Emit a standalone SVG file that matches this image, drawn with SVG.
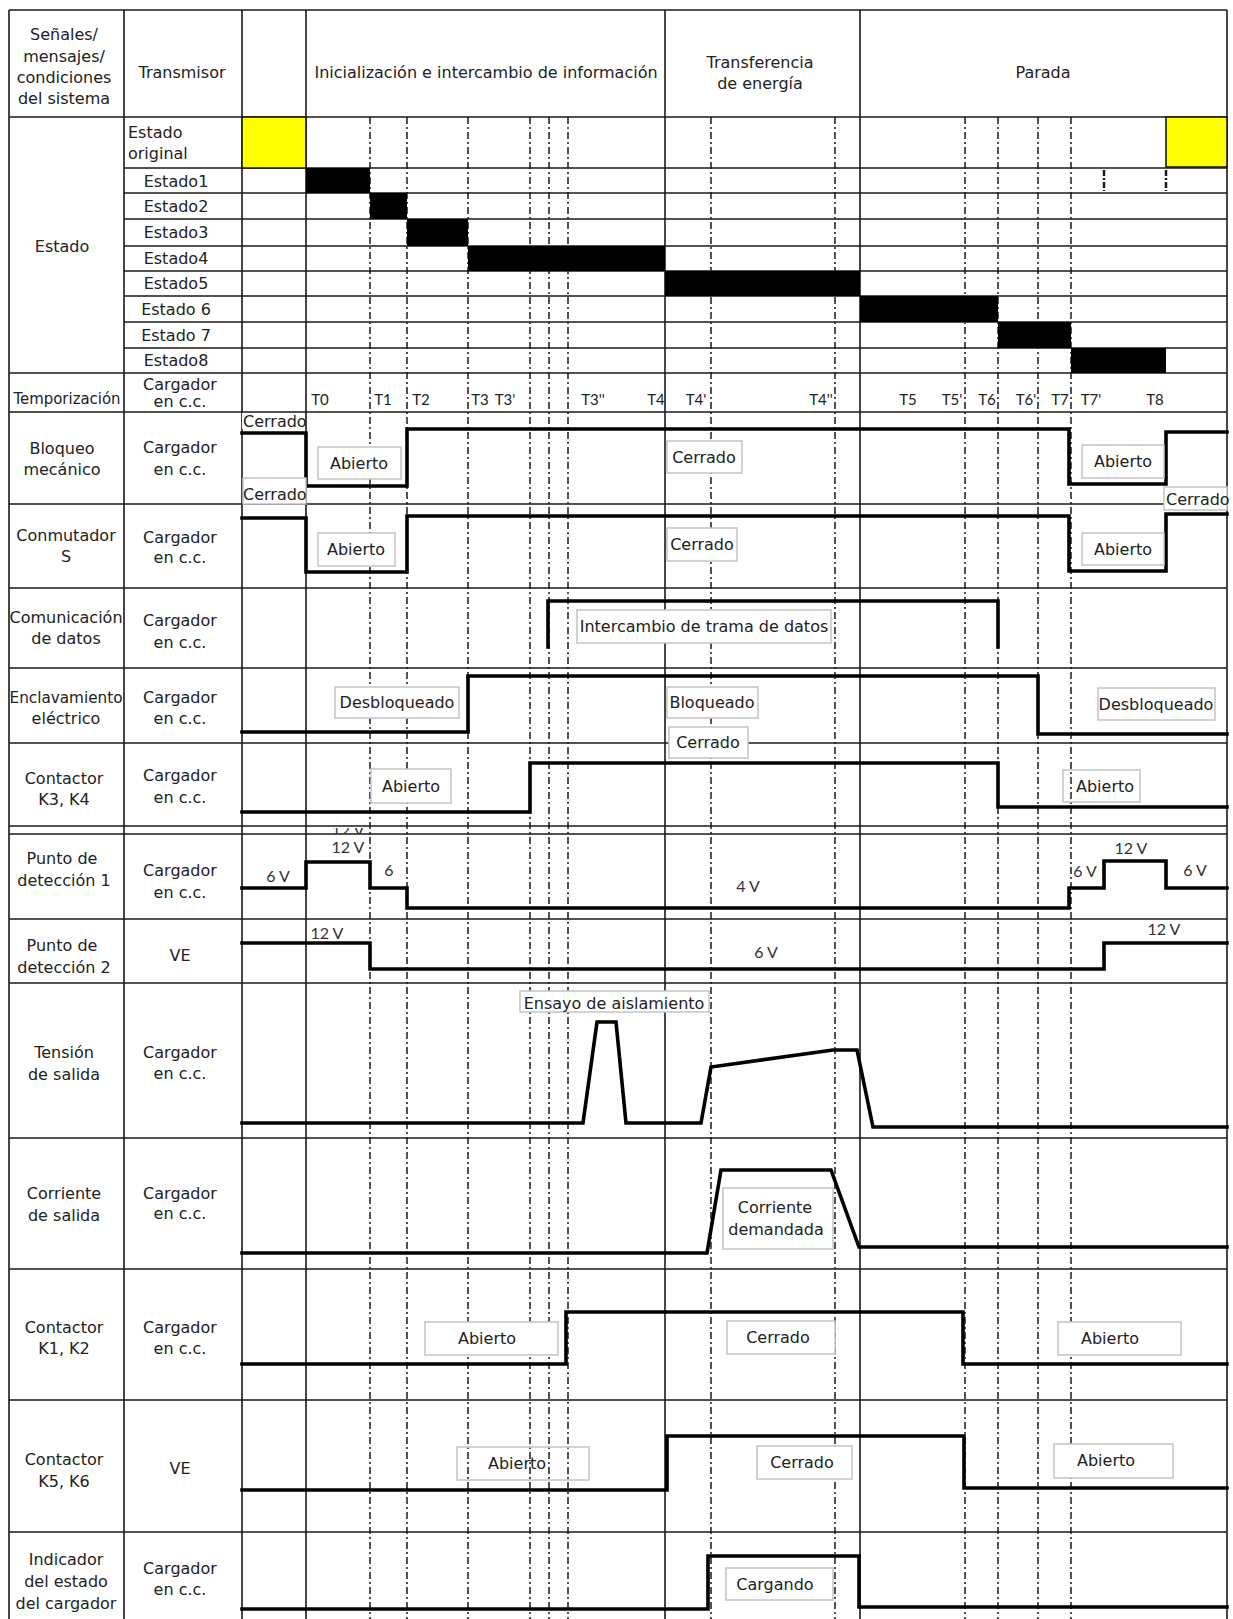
<svg xmlns="http://www.w3.org/2000/svg" width="1233" height="1619" viewBox="0 0 1233 1619">
<defs>
<style>
.g{stroke:#1a1a1a;stroke-width:1.6;fill:none}
.d{stroke:#1a1a1a;stroke-width:1.5;fill:none;stroke-dasharray:7 3 2 3}
.tk{stroke:#1a1a1a;stroke-width:2.5;fill:none;stroke-dasharray:6 2 2 2}
.s{stroke:#000;stroke-width:3.6;fill:none;stroke-linejoin:miter;stroke-linecap:square}
.t{font-family:"DejaVu Sans","Liberation Sans",sans-serif;font-size:16px;fill:#222}
.c{text-anchor:middle}
.n{font-family:Lato,"Open Sans","Liberation Sans",sans-serif;font-size:15px;fill:#222;text-anchor:middle}
.v{font-family:Lato,"Open Sans","Liberation Sans",sans-serif;font-size:16px;fill:#333;text-anchor:middle}
.b{fill:#fff;stroke:#c4c4c4;stroke-width:1.5}
.bo{fill:none;stroke:#c4c4c4;stroke-width:1.5}
.bar{fill:#000}
.y{fill:#ffff00;stroke:#1a1a1a;stroke-width:1.6}
</style>
<clipPath id="cut"><rect x="300" y="828" width="100" height="6"/></clipPath>
</defs>
<rect width="1233" height="1619" fill="#fff"/>

<g id="grid">
<path class="g" d="M9 10H1227M9 117H1227M9 373H1227M9 412H1227M9 504H1227M9 588H1227M9 668H1227M9 743H1227M9 826H1227M9 834H1227M9 919H1227M9 983H1227M9 1138H1227M9 1269H1227M9 1400H1227M9 1532H1227"/>
<path class="g" d="M124 168H1227M124 193H1227M124 219H1227M124 246H1227M124 271H1227M124 296H1227M124 322H1227M124 348H1227"/>
<path class="g" d="M9 10V1619M124 10V1619M242 10V1619M306 10V1619M665 10V1619M860 10V1619M1227 10V1619"/>
</g>

<g id="connectors">
<path class="d" d="M370 117V1619M407 117V1619M468 117V1619M530 117V1619M549 117V1619M568 117V1619M711 117V1619M835 117V1619M965 117V1619M998 117V1619M1038 117V1619M1071 117V1619"/>
<path class="tk" d="M1104 170V191M1166 170V191"/>
</g>

<g id="header">
<text class="t c" x="64" y="40">Señales/</text>
<text class="t c" x="64" y="62">mensajes/</text>
<text class="t c" x="64" y="83">condiciones</text>
<text class="t c" x="64" y="104">del sistema</text>
<text class="t c" x="182" y="78">Transmisor</text>
<text class="t c" x="486" y="78">Inicialización e intercambio de información</text>
<text class="t c" x="760" y="68">Transferencia</text>
<text class="t c" x="760" y="89">de energía</text>
<text class="t c" x="1043" y="78">Parada</text>
</g>

<g id="row-estado">
<rect class="y" x="242" y="117" width="64" height="51"/>
<rect class="y" x="1166" y="117" width="61" height="50"/>
<text class="t c" x="62" y="252">Estado</text>
<text class="t" x="128" y="138">Estado</text>
<text class="t" x="128" y="159">original</text>
<text class="t c" x="176" y="187">Estado1</text>
<text class="t c" x="176" y="212">Estado2</text>
<text class="t c" x="176" y="238">Estado3</text>
<text class="t c" x="176" y="264">Estado4</text>
<text class="t c" x="176" y="289">Estado5</text>
<text class="t c" x="176" y="315">Estado 6</text>
<text class="t c" x="176" y="341">Estado 7</text>
<text class="t c" x="176" y="366">Estado8</text>
<rect class="bar" x="306" y="168" width="64" height="25"/>
<rect class="bar" x="370" y="193" width="37" height="26"/>
<rect class="bar" x="407" y="219" width="61" height="27"/>
<rect class="bar" x="468" y="246" width="197" height="25"/>
<rect class="bar" x="665" y="271" width="195" height="25"/>
<rect class="bar" x="860" y="296" width="138" height="26"/>
<rect class="bar" x="998" y="322" width="73" height="26"/>
<rect class="bar" x="1071" y="348" width="95" height="25"/>
</g>

<g id="row-temporizacion">
<text class="t c" x="67" y="404" textLength="107" lengthAdjust="spacingAndGlyphs">Temporización</text>
<text class="t c" x="180" y="390">Cargador</text>
<text class="t c" x="180" y="407">en c.c.</text>
<text class="n" x="320" y="405">T0</text>
<text class="n" x="383" y="405">T1</text>
<text class="n" x="421" y="405">T2</text>
<text class="n" x="480" y="405">T3</text>
<text class="n" x="505" y="405">T3'</text>
<text class="n" x="593" y="405">T3''</text>
<text class="n" x="656" y="405">T4</text>
<text class="n" x="696" y="405">T4'</text>
<text class="n" x="821" y="405">T4''</text>
<text class="n" x="908" y="405">T5</text>
<text class="n" x="952" y="405">T5'</text>
<text class="n" x="987" y="405">T6</text>
<text class="n" x="1026" y="405">T6'</text>
<text class="n" x="1060" y="405">T7</text>
<text class="n" x="1091" y="405">T7'</text>
<text class="n" x="1155" y="405">T8</text>
</g>

<g id="row-bloqueo">
<text class="t c" x="62" y="454">Bloqueo</text>
<text class="t c" x="62" y="475">mecánico</text>
<text class="t c" x="180" y="453">Cargador</text>
<text class="t c" x="180" y="475">en c.c.</text>
<path class="s" d="M242 433H306V486H407V429H1069V484H1166V432H1227"/>
<rect x="242" y="413" width="63" height="16" fill="#fff"/>
<text class="t" x="243" y="427">Cerrado</text>
<rect class="b" x="243" y="478" width="63" height="26"/>
<text class="t" x="243" y="500">Cerrado</text>
<rect class="b" x="1164" y="487" width="63" height="23"/>
<text class="t" x="1166" y="505">Cerrado</text>
<rect class="b" x="318" y="447" width="83" height="32"/>
<text class="t c" x="359" y="469">Abierto</text>
<rect class="b" x="667" y="441" width="75" height="32"/>
<text class="t c" x="704" y="463">Cerrado</text>
<rect class="b" x="1082" y="445" width="82" height="33"/>
<text class="t c" x="1123" y="467">Abierto</text>
</g>

<g id="row-conmutador">
<text class="t c" x="66" y="541">Conmutador</text>
<text class="t c" x="66" y="562">S</text>
<text class="t c" x="180" y="543">Cargador</text>
<text class="t c" x="180" y="563">en c.c.</text>
<path class="s" d="M242 518H306V572H407V516H1069V571H1166V514H1227"/>
<rect class="b" x="318" y="533" width="77" height="33"/>
<text class="t c" x="356" y="555">Abierto</text>
<rect class="b" x="667" y="528" width="70" height="33"/>
<text class="t c" x="702" y="550">Cerrado</text>
<rect class="b" x="1082" y="533" width="82" height="32"/>
<text class="t c" x="1123" y="555">Abierto</text>
</g>

<g id="row-comunicacion">
<text class="t c" x="66" y="623">Comunicación</text>
<text class="t c" x="66" y="644">de datos</text>
<text class="t c" x="180" y="626">Cargador</text>
<text class="t c" x="180" y="648">en c.c.</text>
<path class="s" d="M548 647V601H998V647"/>
<rect class="b" x="577" y="610" width="254" height="33"/>
<text class="t c" x="704" y="632">Intercambio de trama de datos</text>
</g>

<g id="row-enclavamiento">
<text class="t c" x="66" y="703" textLength="113" lengthAdjust="spacingAndGlyphs">Enclavamiento</text>
<text class="t c" x="66" y="724">eléctrico</text>
<text class="t c" x="180" y="703">Cargador</text>
<text class="t c" x="180" y="724">en c.c.</text>
<path class="s" d="M242 732H468V676H1038V734H1227"/>
<rect class="b" x="335" y="687" width="124" height="31"/>
<text class="t c" x="397" y="708">Desbloqueado</text>
<rect class="b" x="667" y="687" width="91" height="31"/>
<text class="t c" x="712" y="708">Bloqueado</text>
<rect class="b" x="1098" y="688" width="117" height="32"/>
<text class="t c" x="1156" y="710">Desbloqueado</text>
</g>

<g id="row-k3k4">
<text class="t c" x="64" y="784">Contactor</text>
<text class="t c" x="64" y="805">K3, K4</text>
<text class="t c" x="180" y="781">Cargador</text>
<text class="t c" x="180" y="803">en c.c.</text>
<path class="s" d="M242 812H530V763H998V807H1227"/>
<rect class="b" x="669" y="727" width="79" height="31"/>
<text class="t c" x="708" y="748">Cerrado</text>
<rect class="b" x="371" y="769" width="80" height="34"/>
<text class="t c" x="411" y="792">Abierto</text>
<rect class="bo" x="1063" y="770" width="77" height="32"/>
<text class="t c" x="1105" y="792">Abierto</text>
</g>

<g id="row-punto1">
<text class="t c" x="62" y="864">Punto de</text>
<text class="t c" x="64" y="886">detección 1</text>
<text class="t c" x="180" y="876">Cargador</text>
<text class="t c" x="180" y="898">en c.c.</text>
<path class="s" d="M242 888H306V862H370V888H407V908H1069V888H1104V861H1166V888H1227"/>
<text class="v" x="348" y="836" font-size="14" clip-path="url(#cut)">12 V</text>
<text class="v" x="278" y="882">6 V</text>
<text class="v" x="348" y="853">12 V</text>
<text class="v" x="389" y="876">6</text>
<text class="v" x="748" y="892">4 V</text>
<text class="v" x="1085" y="877">6 V</text>
<text class="v" x="1131" y="854">12 V</text>
<text class="v" x="1195" y="876">6 V</text>
</g>

<g id="row-punto2">
<text class="t c" x="62" y="951">Punto de</text>
<text class="t c" x="64" y="973">detección 2</text>
<text class="t c" x="180" y="961">VE</text>
<path class="s" d="M242 943H370V969H1104V943H1227"/>
<text class="v" x="327" y="939">12 V</text>
<text class="v" x="766" y="958">6 V</text>
<text class="v" x="1164" y="935">12 V</text>
</g>

<g id="row-tension">
<text class="t c" x="64" y="1058">Tensión</text>
<text class="t c" x="64" y="1080">de salida</text>
<text class="t c" x="180" y="1058">Cargador</text>
<text class="t c" x="180" y="1079">en c.c.</text>
<path class="s" d="M242 1123H583L597 1022H616L626 1123H701L711 1067L833 1050H857L873 1127H1227"/>
<rect class="b" x="520" y="991" width="189" height="21"/>
<text class="t c" x="614" y="1009">Ensayo de aislamiento</text>
</g>

<g id="row-corriente">
<text class="t c" x="64" y="1199">Corriente</text>
<text class="t c" x="64" y="1221">de salida</text>
<text class="t c" x="180" y="1199">Cargador</text>
<text class="t c" x="180" y="1219">en c.c.</text>
<path class="s" d="M242 1253H707L721 1170H831L859 1247H1227"/>
<rect class="b" x="723" y="1188" width="110" height="61"/>
<text class="t c" x="775" y="1213">Corriente</text>
<text class="t c" x="776" y="1235">demandada</text>
</g>

<g id="row-k1k2">
<text class="t c" x="64" y="1333">Contactor</text>
<text class="t c" x="64" y="1354">K1, K2</text>
<text class="t c" x="180" y="1333">Cargador</text>
<text class="t c" x="180" y="1354">en c.c.</text>
<path class="s" d="M242 1364H566V1312H963V1364H1227"/>
<rect class="b" x="425" y="1322" width="133" height="33"/>
<text class="t c" x="487" y="1344">Abierto</text>
<rect class="b" x="727" y="1321" width="108" height="33"/>
<text class="t c" x="778" y="1343">Cerrado</text>
<rect class="b" x="1058" y="1322" width="123" height="33"/>
<text class="t c" x="1110" y="1344">Abierto</text>
</g>

<g id="row-k5k6">
<text class="t c" x="64" y="1465">Contactor</text>
<text class="t c" x="64" y="1487">K5, K6</text>
<text class="t c" x="180" y="1474">VE</text>
<path class="s" d="M242 1490H667V1436H964V1488H1227"/>
<rect class="bo" x="457" y="1447" width="132" height="33"/>
<text class="t c" x="517" y="1469">Abierto</text>
<rect class="b" x="757" y="1446" width="95" height="33"/>
<text class="t c" x="802" y="1468">Cerrado</text>
<rect class="b" x="1054" y="1444" width="119" height="34"/>
<text class="t c" x="1106" y="1466">Abierto</text>
</g>

<g id="row-indicador">
<text class="t c" x="66" y="1565">Indicador</text>
<text class="t c" x="66" y="1587">del estado</text>
<text class="t c" x="66" y="1609">del cargador</text>
<text class="t c" x="180" y="1574">Cargador</text>
<text class="t c" x="180" y="1595">en c.c.</text>
<path class="s" d="M242 1609H708V1556H859V1607H1227"/>
<rect class="b" x="726" y="1568" width="107" height="32"/>
<text class="t c" x="775" y="1590">Cargando</text>
</g>
</svg>
